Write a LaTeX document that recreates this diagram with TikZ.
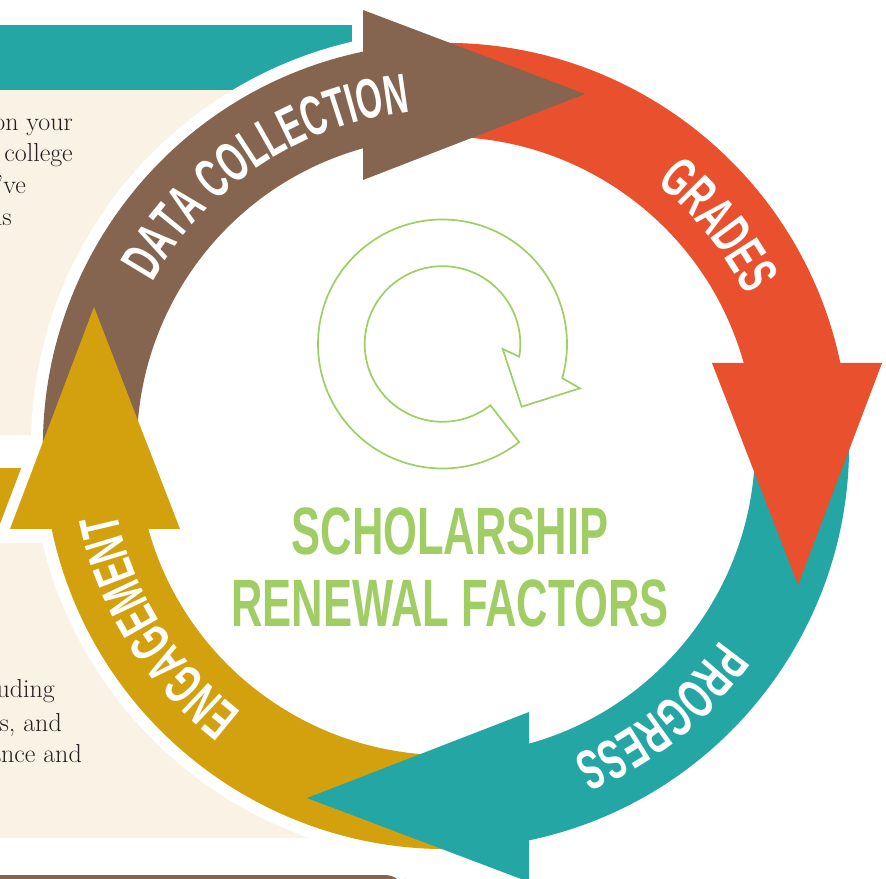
\documentclass[tikz,border=0pt]{standalone}
\usepackage{fontspec}
\newfontfamily\bandfont[FakeStretch=0.6]{Liberation Sans}
\newfontfamily\titlefont[FakeStretch=0.65]{Liberation Sans}
\usepackage{tikz}
\usetikzlibrary{decorations.text}
\usepackage{xcolor}
\definecolor{ringbrown}{RGB}{133, 101, 80}
\definecolor{ringred}{RGB}{233, 80, 45}
\definecolor{ringteal}{RGB}{35, 166, 164}
\definecolor{ringgold}{RGB}{212, 161, 14}
\definecolor{leafgreen}{RGB}{160, 206, 100}
\definecolor{cream}{RGB}{250, 242, 228}
\definecolor{bodyink}{RGB}{35, 31, 32}
\newcommand\bandtext{\bandfont\bfseries\fontsize{56}{56}\selectfont\color{white}}
\tikzset{
    bandlabel/.style={decorate, decoration={text along path, text align=center, text={|\bandtext|#1}}},
    headline/.style={draw=white, line width=22pt},
    fragment/.style={anchor=base east, inner sep=0pt, text=bodyink, font=\fontsize{26}{30}\selectfont},
    title/.style={anchor=base, inner sep=0pt, text=leafgreen, font=\titlefont\bfseries\fontsize{67}{72}\selectfont},
    icon/.style={draw=leafgreen, line width=1.7pt, line join=miter}
}
\begin{document}
\begin{tikzpicture}[x=1pt, y=1pt]
    \useasboundingbox (0,0) rectangle (886,878);
    \clip (0,0) rectangle (886,878);

    % Page background
    \fill[ringteal] (0,853) rectangle (360,788);
    \fill[cream] (0,788) rectangle (300,443);
    \fill[ringgold] (0,410) rectangle (80,348);
    \fill[cream] (0,335) rectangle (440,40);
    \fill[ringbrown, rounded corners=20pt] (-20,-20) rectangle (405,3);

    % Cut-off side text
    \node[fragment] (txtA) at (73,747) {on your};
    \node[fragment] (txtB) at (73,716) {college};
    \node[fragment] (txtC) at (26,684) {’ve};
    \node[fragment] (txtD) at (12,652) {ls};
    \node[fragment] (txtE) at (55,180) {uding};
    \node[fragment] (txtF) at (62,146) {ts, and};
    \node[fragment] (txtG) at (82,115) {ance and};

    % Cycle ring
    \begin{scope}[shift={(446,432)}]
        \fill[white] (0,0) circle[radius=415];
        \foreach \rot in {0,-90,-180,-270}
            \draw[headline, rotate=\rot] (-83,266) -- (-83,436) -- (139,352) -- cycle;
        \foreach \col/\rot in {ringbrown/0, ringred/-90, ringteal/-180, ringgold/-270}
            \fill[\col, rotate=\rot] (190:403) arc[start angle=190, end angle=100, radius=403]
                -- (100:309) arc[start angle=100, end angle=190, radius=309] -- cycle;
        \foreach \col/\rot in {ringbrown/0, ringred/-90, ringteal/-180, ringgold/-270}
            \fill[\col, rotate=\rot] (-83,266) -- (-83,436) -- (139,352) -- cycle;

        % Band labels
        \path[bandlabel={DATA COLLECTION}] (170:336) arc[start angle=170, end angle=77, radius=336];
        \path[bandlabel={GRADES}] (85:336) arc[start angle=85, end angle=-7, radius=336];
        \path[bandlabel={PROGRESS}] (-5:336) arc[start angle=-5, end angle=-98, radius=336];
        \path[bandlabel={ENGAGEMENT}] (258:336) arc[start angle=258, end angle=166, radius=336];
    \end{scope}

    % Centre icon
    \begin{scope}[shift={(442.5,534)}]
        \draw[icon] (-52:124.5) arc[start angle=-52, end angle=-375.9, radius=124.5]
            -- (137.5,-44.3) -- (79.2,-62.7) -- (60.2,-5)
            -- (-9.4:77.8) arc[start angle=-369.4, end angle=-52, radius=77.8] -- cycle;
    \end{scope}

    \node[title] (line1) at (450,323) {SCHOLARSHIP};
    \node[title] (line2) at (450,251) {RENEWAL FACTORS};
\end{tikzpicture}
\end{document}
